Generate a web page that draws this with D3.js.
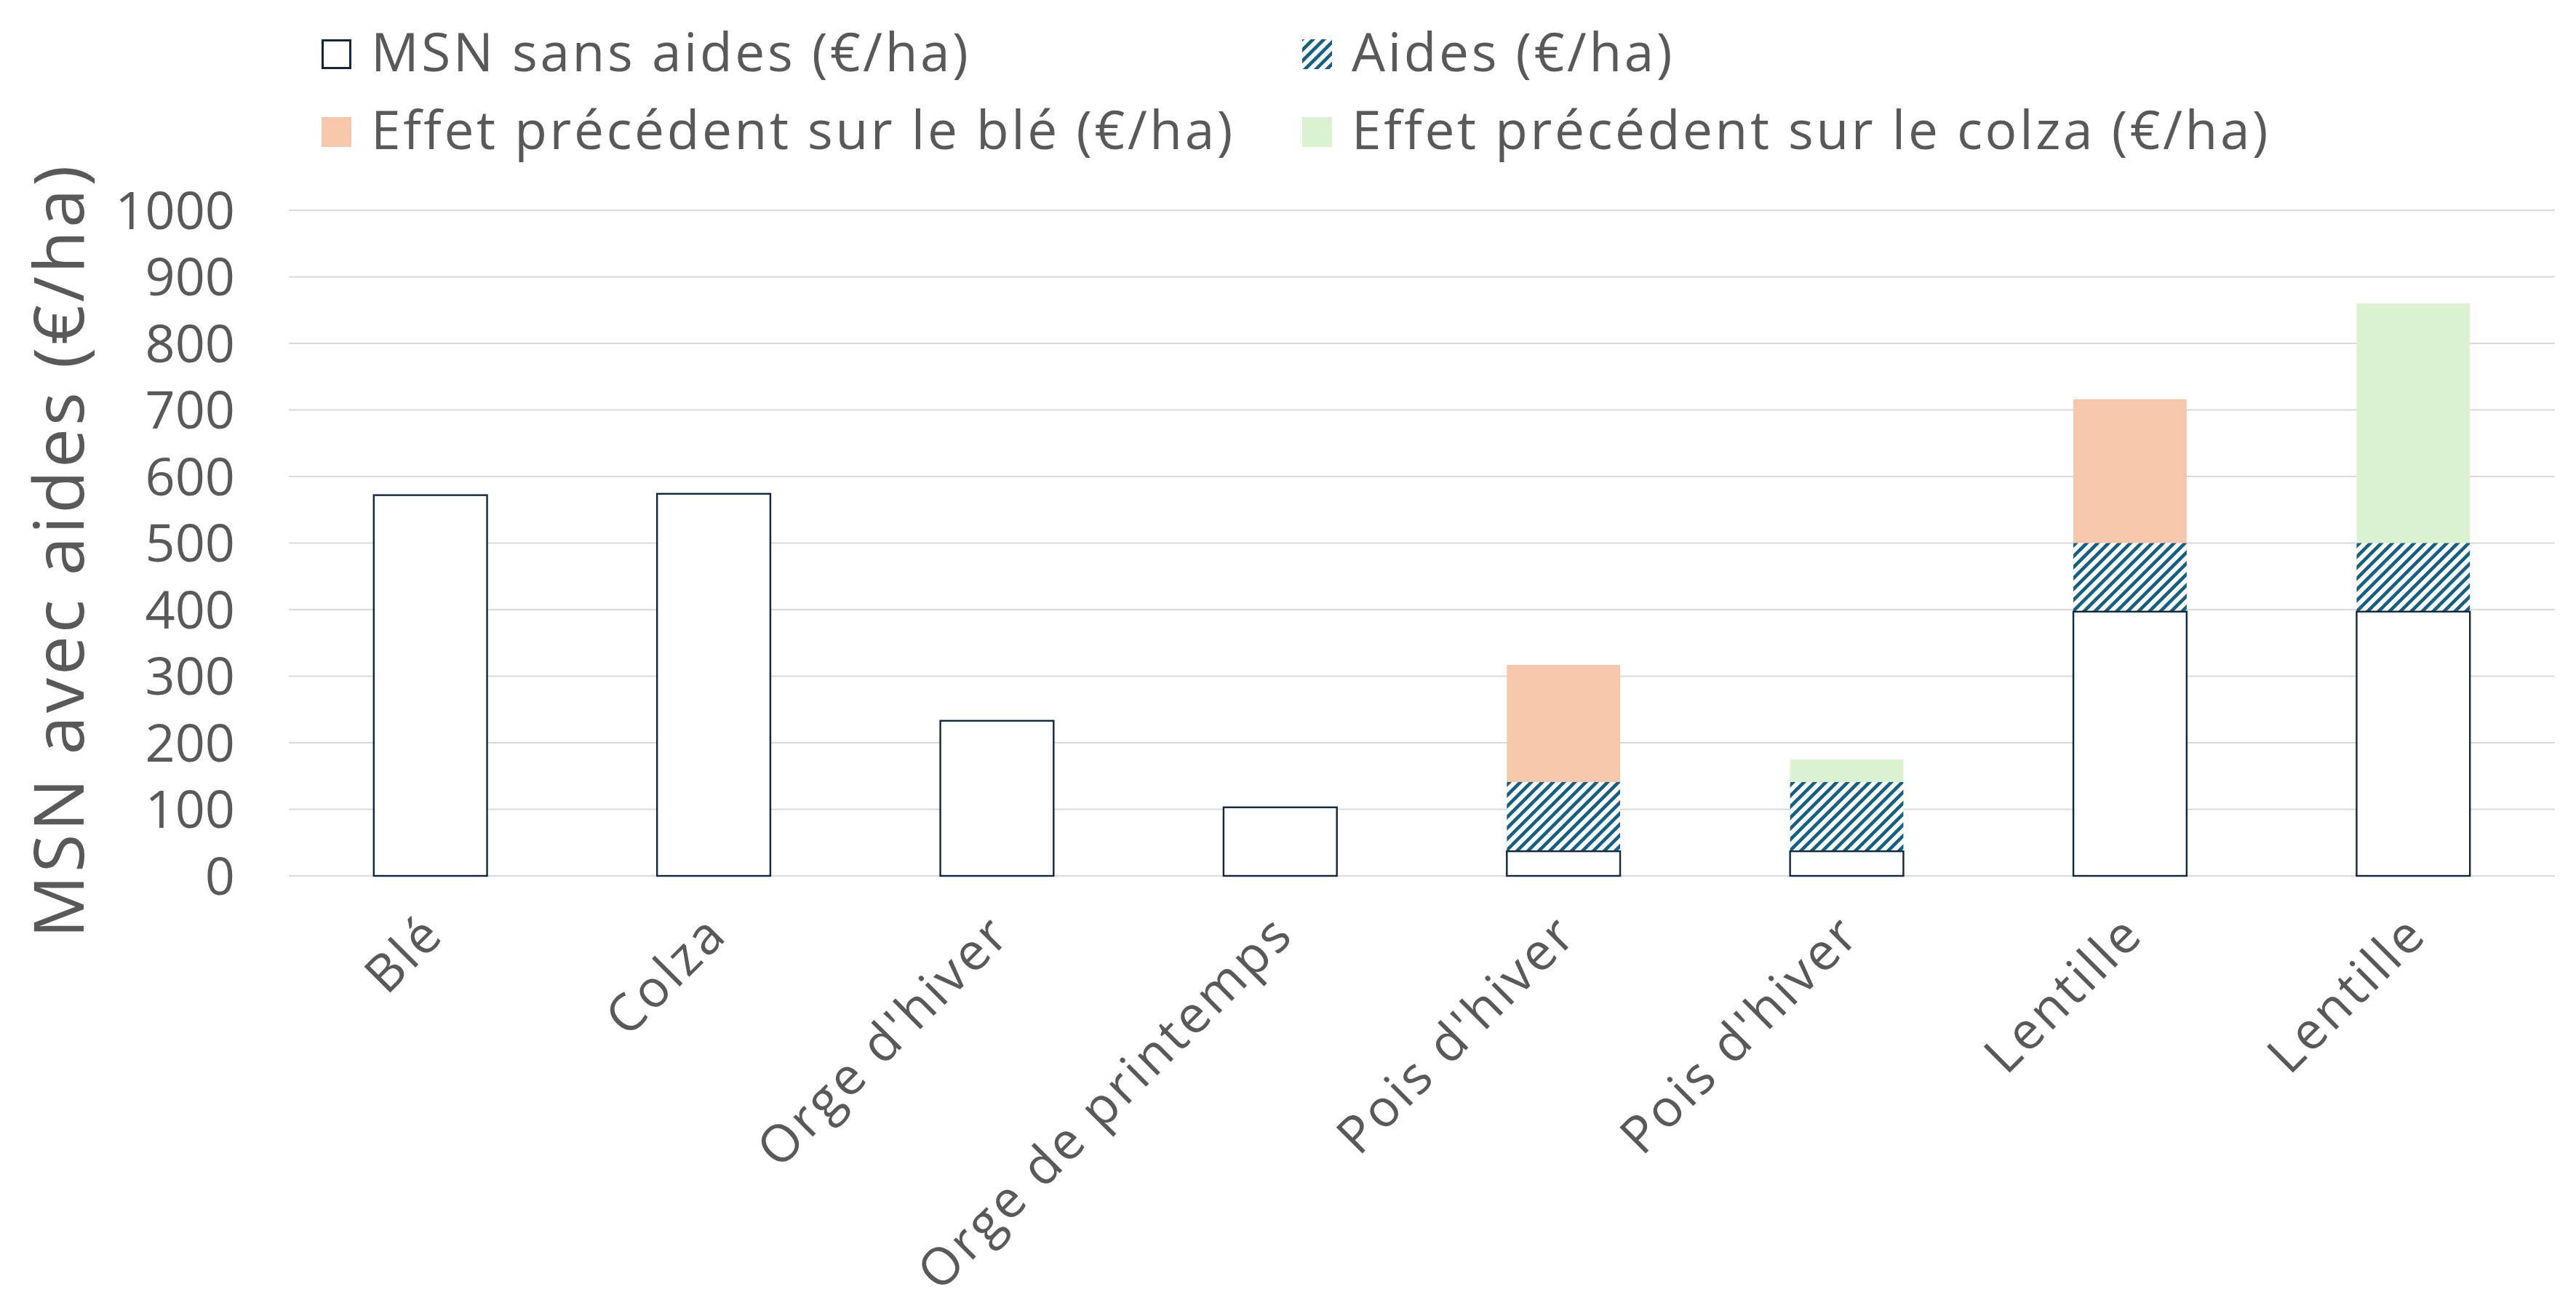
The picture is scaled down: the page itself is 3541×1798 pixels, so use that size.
<!DOCTYPE html>
<html>
<head>
<meta charset="utf-8">
<script src="https://cdn.jsdelivr.net/npm/d3@7/dist/d3.min.js"></script>
<style>
  html, body { margin: 0; padding: 0; background: #ffffff; }
  svg { display: block; }
  text { font-family: "Open Sans", "Noto Sans", sans-serif; fill: #595959; }
</style>
</head>
<body>
<svg id="chart" width="3541" height="1798"></svg>
<script>
// ---- Data ----
const categories = ["Blé", "Colza", "Orge d'hiver", "Orge de printemps", "Pois d'hiver", "Pois d'hiver", "Lentille", "Lentille"];
const msnSansAides = [572, 574, 233, 103, 37, 37, 397, 397];
const aides = [0, 0, 0, 0, 104, 104, 103, 103];
const effetBle = [0, 0, 0, 0, 176, 0, 216, 0];
const effetColza = [0, 0, 0, 0, 0, 34, 0, 360];
const yTicks = [0, 100, 200, 300, 400, 500, 600, 700, 800, 900, 1000];
const seriesNames = ["MSN sans aides (€/ha)", "Aides (€/ha)", "Effet précédent sur le blé (€/ha)", "Effet précédent sur le colza (€/ha)"];
const yTitle = "MSN avec aides (€/ha)";

// ---- Styles ----
const colNavy = "#0E2841";
const colHatch = "#156082";
const colBle = "#F7C7AC";
const colColza = "#DAF2D0";
const colGrid = "#D9D9D9";

const svg = d3.select("#chart");
const plot = { left: 397, right: 3512, top: 289, bottom: 1204 };

const defs = svg.append("defs");
const pat = defs.append("pattern")
  .attr("id", "hatch")
  .attr("patternUnits", "userSpaceOnUse")
  .attr("width", 15).attr("height", 15);
pat.append("rect").attr("width", 15).attr("height", 15).attr("fill", "#ffffff");
pat.append("path")
  .attr("d", "M-3.75,3.75 L3.75,-3.75 M0,15 L15,0 M11.25,18.75 L18.75,11.25")
  .attr("stroke", colHatch).attr("stroke-width", 4.6);

const idx = d3.range(categories.length);
const x = d3.scaleBand().domain(idx).range([plot.left, plot.right]).paddingInner(0.6).paddingOuter(0.3);
const y = d3.scaleLinear().domain([0, 1000]).range([plot.bottom, plot.top]);

// gridlines
svg.append("g").selectAll("line").data(yTicks).join("line")
  .attr("x1", plot.left).attr("x2", plot.right)
  .attr("y1", d => y(d)).attr("y2", d => y(d))
  .attr("stroke", colGrid).attr("stroke-width", 2.2);

// y axis (labels only)
const yAxis = d3.axisLeft(y).tickValues(yTicks).tickSize(0).tickPadding(0).tickFormat(d3.format("d"));
const gy = svg.append("g").attr("transform", `translate(${323},0)`).call(yAxis);
gy.select(".domain").remove();
gy.selectAll("text").attr("font-size", 72).attr("fill", "#595959")
  .style("font-family", "'Open Sans', sans-serif").attr("dy", "0.35em");

// stacked segments
const stacks = idx.map(i => {
  const s0 = 0, s1 = msnSansAides[i];
  const a1 = s1 + aides[i];
  const b1 = a1 + effetBle[i];
  const c1 = b1 + effetColza[i];
  return { i, msn: [s0, s1], aid: [s1, a1], ble: [a1, b1], colza: [b1, c1] };
});

const bars = svg.append("g");
function seg(key, fill) {
  bars.append("g").selectAll("rect").data(stacks.filter(d => d[key][1] > d[key][0])).join("rect")
    .attr("x", d => x(d.i)).attr("width", x.bandwidth())
    .attr("y", d => y(d[key][1])).attr("height", d => y(d[key][0]) - y(d[key][1]))
    .attr("fill", fill);
}
seg("colza", colColza);
seg("ble", colBle);
seg("aid", "url(#hatch)");
bars.append("g").selectAll("rect").data(stacks).join("rect")
  .attr("x", d => x(d.i)).attr("width", x.bandwidth())
  .attr("y", d => y(d.msn[1])).attr("height", d => y(d.msn[0]) - y(d.msn[1]))
  .attr("fill", "#ffffff").attr("stroke", colNavy).attr("stroke-width", 2.4);

// x labels
const xAxis = d3.axisBottom(x).tickSize(0).tickFormat(i => categories[i]);
const gx = svg.append("g").attr("transform", `translate(0,${plot.bottom})`).call(xAxis);
gx.select(".domain").remove();
gx.selectAll(".tick text")
  .attr("font-size", 71).attr("fill", "#595959")
  .style("font-family", "'Open Sans', sans-serif")
  .style("letter-spacing", "4px")
  .attr("text-anchor", "end")
  .attr("y", 0)
  .attr("transform", "translate(-6,56) rotate(-45)")
  .attr("dy", "0.55em");

// y title
svg.append("text")
  .attr("transform", `translate(115,${(plot.top + plot.bottom) / 2 + 10}) rotate(-90)`)
  .attr("text-anchor", "middle")
  .attr("font-size", 96)
  .style("letter-spacing", "4px")
  .text(yTitle);

// legend
const legendItems = [
  { name: seriesNames[0], type: "msn", x: 442, y: 54 },
  { name: seriesNames[1], type: "aid", x: 1790, y: 54 },
  { name: seriesNames[2], type: "ble", x: 442, y: 161 },
  { name: seriesNames[3], type: "colza", x: 1790, y: 161 }
];
const lg = svg.append("g").selectAll("g").data(legendItems).join("g")
  .attr("transform", d => `translate(${d.x},${d.y})`);
lg.append("rect")
  .attr("x", d => d.type === "msn" ? 1.5 : 0).attr("y", d => d.type === "msn" ? 1.5 : 0)
  .attr("width", d => d.type === "msn" ? 38 : 41).attr("height", d => d.type === "msn" ? 38 : 41)
  .attr("fill", d => d.type === "msn" ? "#ffffff" : d.type === "aid" ? "url(#hatch)" : d.type === "ble" ? colBle : colColza)
  .attr("stroke", d => d.type === "msn" ? colNavy : "none")
  .attr("stroke-width", 3);
lg.append("text")
  .attr("x", 68).attr("y", 44)
  .attr("font-size", 73)
  .style("letter-spacing", "3.6px")
  .text(d => d.name);
</script>
</body>
</html>
